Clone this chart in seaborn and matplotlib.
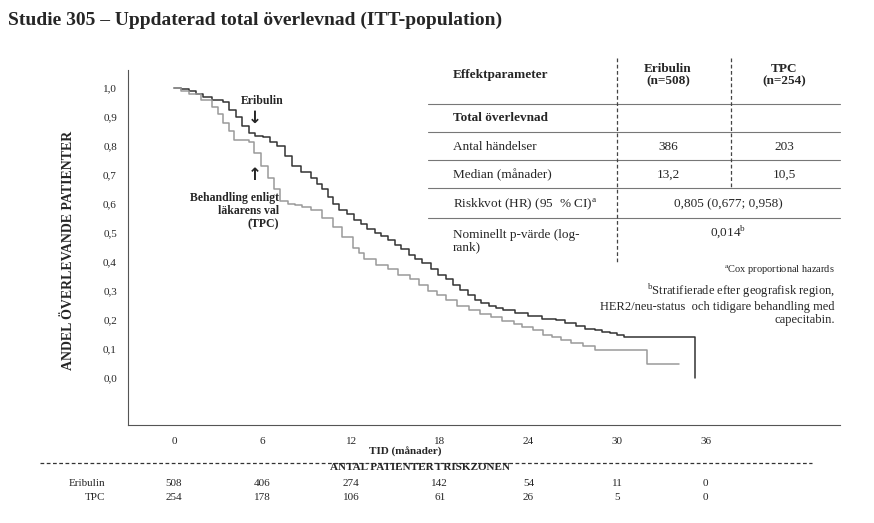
import matplotlib
matplotlib.use("Agg")
import matplotlib.pyplot as plt
import seaborn as sns
import pandas as pd
from matplotlib.lines import Line2D

sns.set_style("white")
plt.rcParams['font.family'] = ['Liberation Serif', 'DejaVu Serif']

eri_t = [0, 0.5, 1.0, 1.5, 2.0, 2.6, 3.3, 3.7, 4.2, 4.6, 5.1, 5.5, 6.0, 6.5, 7.0, 7.5, 8.0, 8.6, 9.3, 9.7, 10.0, 10.4, 10.8, 11.2, 11.7, 12.2, 12.7, 13.1, 13.6, 14.0, 14.5, 15.0, 15.4, 15.9, 16.3, 16.8, 17.4, 17.9, 18.4, 18.9, 19.4, 19.9, 20.4, 20.8, 21.3, 21.8, 22.3, 23.1, 24.0, 24.9, 25.9, 26.5, 27.2, 27.8, 28.5, 29.0, 29.5, 30.0, 30.5, 35.3]
eri_s = [1.0, 0.995, 0.99, 0.98, 0.97, 0.96, 0.95, 0.925, 0.90, 0.87, 0.845, 0.835, 0.83, 0.815, 0.80, 0.765, 0.73, 0.71, 0.69, 0.67, 0.65, 0.625, 0.60, 0.58, 0.565, 0.545, 0.53, 0.515, 0.50, 0.49, 0.475, 0.46, 0.445, 0.425, 0.41, 0.395, 0.375, 0.355, 0.34, 0.32, 0.305, 0.285, 0.27, 0.26, 0.25, 0.24, 0.235, 0.225, 0.215, 0.205, 0.20, 0.19, 0.18, 0.17, 0.165, 0.16, 0.155, 0.15, 0.14, 0.0]
tpc_t = [0, 0.5, 1.0, 1.8, 2.6, 3.0, 3.3, 3.7, 4.1, 5.1, 5.4, 5.9, 6.4, 6.8, 7.2, 7.7, 8.2, 8.7, 9.3, 10.0, 10.8, 11.4, 12.1, 12.5, 12.9, 13.7, 14.5, 15.2, 16.0, 16.6, 17.2, 17.8, 18.4, 19.2, 20.0, 20.7, 21.5, 22.2, 23.0, 23.6, 24.3, 25.0, 25.6, 26.2, 26.9, 27.7, 28.5, 32.0, 34.2]
tpc_s = [1.0, 0.99, 0.98, 0.96, 0.935, 0.91, 0.88, 0.85, 0.82, 0.815, 0.775, 0.73, 0.69, 0.65, 0.61, 0.60, 0.595, 0.59, 0.58, 0.55, 0.52, 0.485, 0.45, 0.43, 0.41, 0.39, 0.375, 0.355, 0.34, 0.32, 0.30, 0.285, 0.27, 0.25, 0.235, 0.22, 0.21, 0.195, 0.185, 0.175, 0.165, 0.15, 0.14, 0.13, 0.12, 0.11, 0.097, 0.05, 0.05]

x_ticks = [0, 6, 12, 18, 24, 30, 36]
y_ticks = [0.0, 0.1, 0.2, 0.3, 0.4, 0.5, 0.6, 0.7, 0.8, 0.9, 1.0]
risk_eri = ["508", "406", "274", "142", "54", "11", "0"]
risk_tpc = ["254", "178", "106", "61", "26", "5", "0"]

tbl_rows = ["Effektparameter", "Total överlevnad", "Antal händelser", "Median (månader)",
            "Riskkvot (HR) (95  % CI)$^{\\mathregular{a}}$", "Nominellt p-värde (log-\nrank)"]
tbl_eri = ["Eribulin\n(n=508)", "", "386", "13,2"]
tbl_tpc = ["TPC\n(n=254)", "", "203", "10,5"]
tbl_hr = "0,805 (0,677; 0,958)"
tbl_p = "0,014$^{\\mathregular{b}}$"

W, H = 874, 523
fig = plt.figure(figsize=(W/100, H/100), dpi=100)
def F(x, y): return (x/W, 1-y/H)
ax = fig.add_axes([128/W, 1-425/H, (840-128)/W, (425-70)/H])

df = pd.concat([pd.DataFrame({"t": eri_t, "s": eri_s, "g": "Eribulin"}),
                pd.DataFrame({"t": tpc_t, "s": tpc_s, "g": "TPC"})])
sns.lineplot(data=df[df.g == "Eribulin"], x="t", y="s", ax=ax, color="#333333", lw=1.1, drawstyle="steps-post", estimator=None)
sns.lineplot(data=df[df.g == "TPC"], x="t", y="s", ax=ax, color="#9a9a9a", lw=1.1, drawstyle="steps-post", estimator=None)
ax.set_xlim(-3.11, 45.1)
ax.set_ylim(-0.162, 1.062)
ax.set_xticks(x_ticks)
ax.set_xticklabels([str(v) for v in x_ticks], fontsize=8)
ax.set_yticks(y_ticks)
ax.set_yticklabels([f"{v:.1f}".replace(".", ",") for v in y_ticks], fontsize=8)
ax.tick_params(axis="y", length=2, pad=6, color="#aaaaaa")
ax.tick_params(axis="x", length=3, pad=6)
for s in ["top", "right"]:
    ax.spines[s].set_visible(False)
for s in ["left", "bottom"]:
    ax.spines[s].set_color("#555555"); ax.spines[s].set_linewidth(0.8)
ax.set_xlabel(""); ax.set_ylabel("")

fig.text(*F(8, 20), "Studie 305 – Uppdaterad total överlevnad (ITT-population)", fontsize=14, fontweight="bold", va="center")
fig.text(*F(68, 250), "ANDEL ÖVERLEVANDE PATIENTER", rotation=90, fontsize=10, fontweight="bold", ha="center", va="center")
fig.text(*F(405, 452), "TID (månader)", fontsize=8, fontweight="bold", ha="center", va="center")

fig.text(*F(262, 101), "Eribulin", fontsize=8.5, fontweight="bold", ha="center", va="center")
fig.text(*F(255, 118), "↓", fontsize=12, fontweight="bold", ha="center", va="center", family=["DejaVu Sans"])
fig.text(*F(255, 175), "↑", fontsize=12, fontweight="bold", ha="center", va="center", family=["DejaVu Sans"])
fig.text(*F(279, 211), "Behandling enligt\nläkarens val\n(TPC)", fontsize=8.5, fontweight="bold", ha="right", va="center", linespacing=1.1)

row_y = [75, 118, 147, 175, 204, 241]
for i, t in enumerate(tbl_rows):
    fig.text(*F(453, row_y[i]), t, fontsize=9.5, ha="left", va="center",
             fontweight="bold" if i < 2 else "normal", linespacing=1.1)
for i in range(4):
    fig.text(*F(668, row_y[i]), tbl_eri[i], fontsize=9.5, ha="center", va="center", fontweight="bold" if i == 0 else "normal", linespacing=1.1)
    fig.text(*F(784, row_y[i]), tbl_tpc[i], fontsize=9.5, ha="center", va="center", fontweight="bold" if i == 0 else "normal", linespacing=1.1)
fig.text(*F(728, row_y[4]), tbl_hr, fontsize=9.5, ha="center", va="center")
fig.text(*F(728, 232), tbl_p, fontsize=9.5, ha="center", va="center")
for yy in [104, 132, 160, 188, 218]:
    fig.add_artist(Line2D([428/W, 840/W], [1-yy/H, 1-yy/H], color="#777777", lw=0.8))
fig.add_artist(Line2D([617/W, 617/W], [1-58/H, 1-262/H], color="#444444", lw=0.9, ls=(0, (3, 2))))
fig.add_artist(Line2D([731/W, 731/W], [1-58/H, 1-188/H], color="#444444", lw=0.9, ls=(0, (3, 2))))
fig.text(*F(835, 270), "$^{\\mathregular{a}}$Cox proportional hazards", fontsize=7.5, ha="right", va="center")
fig.text(*F(835, 304), "$^{\\mathregular{b}}$Stratifierade efter geografisk region,\nHER2/neu-status  och tidigare behandling med\ncapecitabin.",
         fontsize=9, ha="right", va="center", multialignment="right", linespacing=1.1)

fig.add_artist(Line2D([40/W, 812/W], [1-463/H, 1-463/H], color="#333333", lw=0.9, ls=(0, (3, 2))))
fig.text(*F(420, 467), "ANTAL PATIENTER I RISKZONEN", fontsize=8, fontweight="bold", ha="center", va="center")
fig.text(*F(105, 483), "Eribulin", fontsize=8, ha="right", va="center")
fig.text(*F(105, 498), "TPC", fontsize=8, ha="right", va="center")
tr = ax.get_xaxis_transform()
for i, xv in enumerate(x_ticks):
    ax.text(xv, 1 - (483-70)/355, risk_eri[i], transform=tr, fontsize=8, ha="center", va="center", clip_on=False)
    ax.text(xv, 1 - (498-70)/355, risk_tpc[i], transform=tr, fontsize=8, ha="center", va="center", clip_on=False)

fig.savefig("out.png", dpi=100)
